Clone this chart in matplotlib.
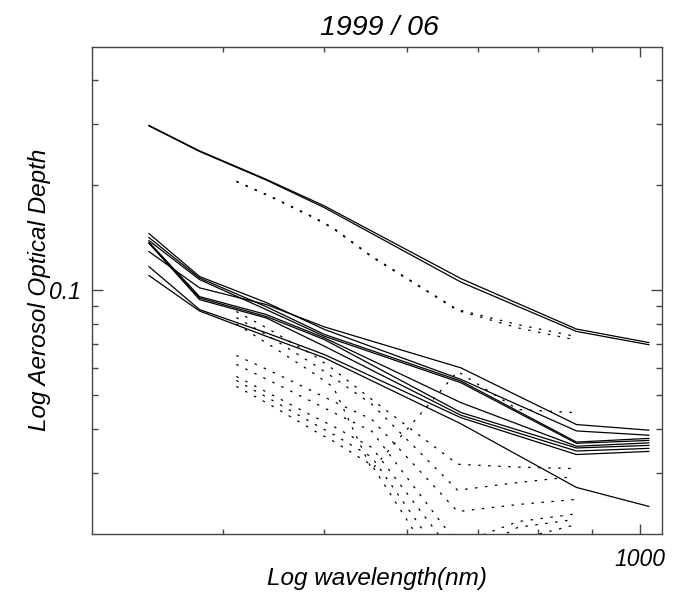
import matplotlib
matplotlib.use("Agg")
import matplotlib.pyplot as plt
from matplotlib.ticker import FixedLocator, NullFormatter, FixedFormatter

# ---------------- data ----------------
# sun-photometer bands (solid lines)
wl_solid = [340, 380, 440, 500, 675, 870, 1020]
solid_top1 = [0.2970, 0.2510, 0.2080, 0.1745, 0.1080, 0.0774, 0.0708]
solid_top2 = [0.2960, 0.2500, 0.2070, 0.1725, 0.1055, 0.0762, 0.0698]
solid_a = [0.1291, 0.1016, 0.0910, 0.0785, 0.0599, 0.0412, 0.0397]
solid_b = [0.1454, 0.1095, 0.0922, 0.0772, 0.0555, 0.0395, 0.0384]
solid_c = [0.1416, 0.1084, 0.0897, 0.0747, 0.0549, 0.0367, 0.0376]
solid_d = [0.1388, 0.1073, 0.0880, 0.0738, 0.0543, 0.0364, 0.0371]
solid_e = [0.1374, 0.0959, 0.0852, 0.0730, 0.0476, 0.0357, 0.0365]
solid_f = [0.1365, 0.0950, 0.0841, 0.0722, 0.0446, 0.0353, 0.0359]
solid_g = [0.1365, 0.0940, 0.0833, 0.0691, 0.0438, 0.0346, 0.0352]
solid_h = [0.1169, 0.0880, 0.0755, 0.0654, 0.0431, 0.0338, 0.0345]
solid_i = [0.1102, 0.0872, 0.0738, 0.0640, 0.0414, 0.0272, 0.0240]

# satellite bands (dotted lines)
wl_dotted = [412, 443, 490, 510, 555, 670, 765, 865]
dot_top1 = [0.2053, 0.1867, 0.1612, 0.1509, 0.1251, 0.0880, 0.0797, 0.0739]
dot_top2 = [0.2050, 0.1860, 0.1605, 0.1500, 0.1245, 0.0875, 0.0780, 0.0722]
dot_1 = [0.0869, 0.0772, 0.0646, 0.0593, 0.0486, 0.0317, 0.0311, 0.0308]
dot_2 = [0.0835, 0.0737, 0.0609, 0.0562, 0.0471, 0.0267, 0.0281, 0.0292]
dot_3 = [0.0650, 0.0589, 0.0509, 0.0480, 0.0426, 0.0232, 0.0243, 0.0251]
dot_4 = [0.0613, 0.0551, 0.0474, 0.0446, 0.0394, 0.0187, 0.0217, 0.0228]
dot_5 = [0.0566, 0.0506, 0.0432, 0.0407, 0.0354, 0.0169, 0.0209, 0.0220]
dot_6 = [0.0551, 0.0489, 0.0412, 0.0386, 0.0332, 0.0148, 0.0193, 0.0212]
dot_7 = [0.0530, 0.0471, 0.0394, 0.0369, 0.0315, 0.0130, 0.0169, 0.0193]
dot_8 = [0.0800, 0.0698, 0.0574, 0.0527, 0.0306, 0.0585, 0.0455, 0.0446]

solid_series = [solid_top1, solid_top2, solid_a, solid_b, solid_c, solid_d,
                solid_e, solid_f, solid_g, solid_h, solid_i]
dotted_series = [dot_top1, dot_top2, dot_1, dot_2, dot_3, dot_4, dot_5,
                 dot_6, dot_7, dot_8]

title = "1999 / 06"
xlabel = "Log wavelength(nm)"
ylabel = "Log Aerosol Optical Depth"
xlim = (300, 1050)
ylim = (0.02, 0.5)
x_major = [1000]
x_major_labels = ["1000"]
x_minor = [400, 500, 600, 700, 800, 900]
y_major = [0.1]
y_major_labels = ["0.1"]
y_minor = [0.03, 0.04, 0.05, 0.06, 0.07, 0.08, 0.09, 0.2, 0.3, 0.4]

# ---------------- plot ----------------
plt.rcParams['font.family'] = ['Liberation Sans', 'DejaVu Sans']
fig = plt.figure(figsize=(6.87, 5.98), dpi=100)
ax = fig.add_axes([92/687, 1-534/598, (662-92)/687, (534-46.5)/598])

for s in solid_series:
    ax.plot(wl_solid, s, color='black', lw=0.9, solid_joinstyle='miter')
for s in dotted_series:
    ax.plot(wl_dotted, s, color='black', lw=0.9, linestyle=(0, (2.0, 6.0)))

ax.set_xscale('log')
ax.set_yscale('log')
ax.set_xlim(*xlim)
ax.set_ylim(*ylim)

ax.xaxis.set_major_locator(FixedLocator(x_major))
ax.xaxis.set_major_formatter(FixedFormatter(x_major_labels))
ax.xaxis.set_minor_locator(FixedLocator(x_minor))
ax.xaxis.set_minor_formatter(NullFormatter())
ax.yaxis.set_major_locator(FixedLocator(y_major))
ax.yaxis.set_major_formatter(FixedFormatter(y_major_labels))
ax.yaxis.set_minor_locator(FixedLocator(y_minor))
ax.yaxis.set_minor_formatter(NullFormatter())

axis_col = '#444444'
for sp in ax.spines.values():
    sp.set_color(axis_col)
    sp.set_linewidth(1.0)
ax.tick_params(which='both', direction='in', top=True, right=True,
               color=axis_col, width=1.0)
ax.tick_params(axis='x', which='major', length=7, pad=10)
ax.tick_params(axis='x', which='minor', length=3.5)
ax.tick_params(axis='y', which='major', length=8, pad=8)
ax.tick_params(axis='y', which='minor', length=4.3)
for lab in ax.get_xticklabels() + ax.get_yticklabels():
    lab.set_fontstyle('italic')
    lab.set_fontsize(16.5)

fig.text(379/687, 1-28/598, title, ha='center', va='center',
         fontsize=20.5, style='italic')
fig.text(377/687, 1-578/598, xlabel, ha='center', va='center',
         fontsize=17.5, style='italic')
fig.text(40/687, 1-290/598, ylabel, ha='center', va='center',
         fontsize=17.5, style='italic', rotation=90)

fig.savefig('out.png', dpi=100)
